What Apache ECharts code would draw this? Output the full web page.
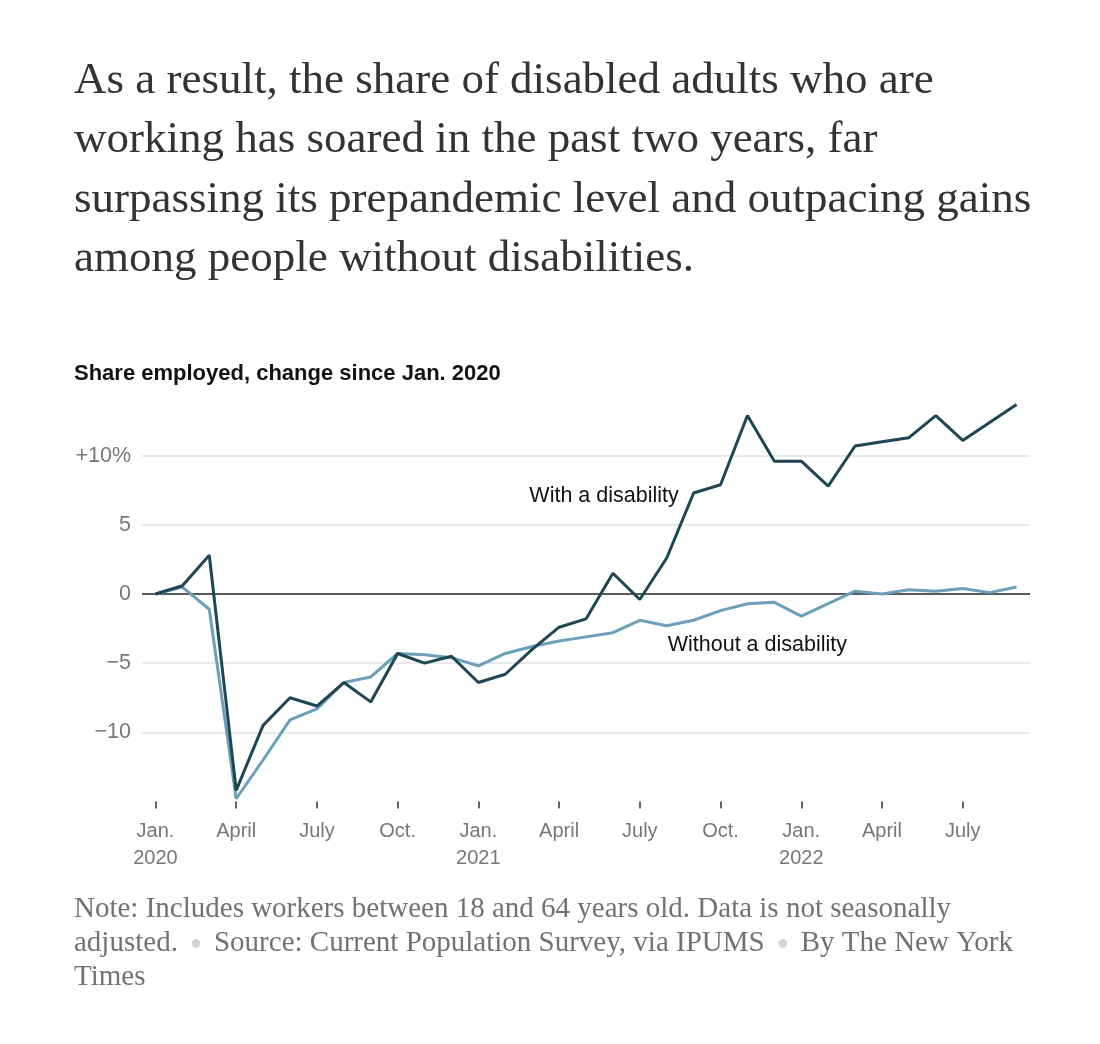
<!DOCTYPE html>
<html>
<head>
<meta charset="utf-8">
<script src="https://cdn.jsdelivr.net/npm/echarts@6/dist/echarts.min.js"></script>
<style>
  html, body { margin: 0; padding: 0; background: #fff; }
  #main { width: 1100px; height: 1044px; }
</style>
</head>
<body>
<div id="main"></div>
<script>
var myChart = echarts.init(document.getElementById('main'));

// months, Jan. 2020 – Sep. 2022
var months = [
    '2020-01', '2020-02', '2020-03', '2020-04', '2020-05', '2020-06', '2020-07', '2020-08', '2020-09', '2020-10', '2020-11', '2020-12',
    '2021-01', '2021-02', '2021-03', '2021-04', '2021-05', '2021-06', '2021-07', '2021-08', '2021-09', '2021-10', '2021-11', '2021-12',
    '2022-01', '2022-02', '2022-03', '2022-04', '2022-05', '2022-06', '2022-07', '2022-08', '2022-09'
];
// one label every third month
var tickLabels = ['Jan.\n2020', 'April', 'July', 'Oct.', 'Jan.\n2021', 'April', 'July', 'Oct.', 'Jan.\n2022', 'April', 'July'];

// share employed, change since Jan. 2020 (percentage points)
var withDisability = [0, 0.6, 2.8, -14.2, -9.5, -7.5, -8.1, -6.4, -7.8, -4.3, -5.0, -4.5,
    -6.4, -5.8, -4.0, -2.4, -1.8, 1.5, -0.4, 2.6, 7.3, 7.9, 12.9, 9.6,
    9.6, 7.8, 10.7, 11.0, 11.3, 12.9, 11.1, 12.4, 13.7];
var withoutDisability = [0, 0.5, -1.1, -14.8, -12.0, -9.1, -8.3, -6.4, -6.0, -4.3, -4.4, -4.6,
    -5.2, -4.3, -3.8, -3.4, -3.1, -2.8, -1.9, -2.3, -1.9, -1.2, -0.7, -0.6,
    -1.6, -0.7, 0.2, 0.0, 0.3, 0.2, 0.4, 0.1, 0.5];

var yTicks = [-10, -5, 0, 5, 10];

var sans = '"Liberation Sans", Arial, sans-serif';
var serif = '"Liberation Serif", "Times New Roman", serif';

var option = {
    backgroundColor: '#fff',
    animation: false,
    graphic: [
        {
            type: 'text',
            left: 74,
            top: 51,
            style: {
                text: 'As a result, the share of disabled adults who are\n' +
                      'working has soared in the past two years, far\n' +
                      'surpassing its prepandemic level and outpacing gains\n' +
                      'among people without disabilities.',
                font: '45px ' + serif,
                lineHeight: 59.5,
                fill: '#333'
            }
        },
        {
            type: 'text',
            left: 74,
            top: 363,
            style: {
                text: 'Share employed, change since Jan. 2020',
                font: 'bold 22px ' + sans,
                fill: '#121212'
            }
        },
        {
            type: 'text',
            left: 74,
            top: 895,
            style: {
                rich: {
                    n: { font: '29px ' + serif, fill: '#727272', lineHeight: 34 },
                    dot: { font: '20px ' + sans, fill: '#d4d4d4', lineHeight: 34, padding: [0, 12, 0, 12] }
                },
                text: '{n|Note: Includes workers between 18 and 64 years old. Data is not seasonally}\n' +
                      '{n|adjusted.}{dot|●}{n|Source: Current Population Survey, via IPUMS}{dot|●}{n|By The New York}\n' +
                      '{n|Times}'
            }
        }
    ],
    grid: {
        left: 142,
        right: 70,
        top: 386.5,
        bottom: 242.5
    },
    xAxis: {
        type: 'category',
        data: months,
        boundaryGap: true,
        axisLine: { show: false, onZero: false },
        axisTick: {
            show: true,
            alignWithLabel: true,
            interval: function (index) { return index % 3 === 0; },
            length: 7,
            lineStyle: { color: '#333', width: 1.5 }
        },
        axisLabel: {
            interval: function (index) { return index % 3 === 0; },
            formatter: function (value, index) { return tickLabels[index / 3]; },
            margin: 16,
            color: '#777',
            fontFamily: sans,
            fontSize: 20,
            lineHeight: 27
        },
        splitLine: { show: false }
    },
    yAxis: {
        type: 'value',
        min: -15,
        max: 15,
        interval: 5,
        axisLine: { show: false },
        axisTick: { show: false },
        axisLabel: {
            margin: 11,
            color: '#777',
            fontFamily: sans,
            fontSize: 21.5,
            formatter: function (v) {
                if (yTicks.indexOf(v) < 0) return '';
                if (v === 10) return '+10%';
                if (v < 0) return '\u2212' + Math.abs(v);
                return String(v);
            }
        },
        splitLine: {
            show: true,
            lineStyle: {
                // -15, -10, -5, 0, 5, 10, 15
                color: ['transparent', '#e2e2e2', '#e2e2e2', 'transparent', '#e2e2e2', '#e2e2e2', 'transparent'],
                width: 1.5
            }
        }
    },
    series: [
        {
            name: 'Without a disability',
            type: 'line',
            data: withoutDisability,
            symbol: 'none',
            lineStyle: { color: '#6c9fba', width: 3 },
            z: 3,
            markLine: {
                silent: true,
                symbol: 'none',
                label: { show: false },
                lineStyle: { color: '#222', width: 1.6, type: 'solid' },
                data: [{ yAxis: 0 }],
                z: 1
            },
            markPoint: {
                symbol: 'circle',
                symbolSize: 0,
                label: {
                    show: true,
                    position: 'inside',
                    align: 'left',
                    offset: [1, 0],
                    color: '#121212',
                    fontFamily: sans,
                    fontSize: 21.5,
                    formatter: 'Without a disability'
                },
                data: [{ coord: ['2021-08', -3.7] }]
            }
        },
        {
            name: 'With a disability',
            type: 'line',
            data: withDisability,
            symbol: 'none',
            lineStyle: { color: '#1f4654', width: 3 },
            z: 4,
            markPoint: {
                symbol: 'circle',
                symbolSize: 0,
                label: {
                    show: true,
                    position: 'inside',
                    align: 'right',
                    offset: [12, 0],
                    color: '#121212',
                    fontFamily: sans,
                    fontSize: 21.5,
                    formatter: 'With a disability'
                },
                data: [{ coord: ['2021-08', 7.1] }]
            }
        }
    ]
};

myChart.setOption(option);
</script>
</body>
</html>
